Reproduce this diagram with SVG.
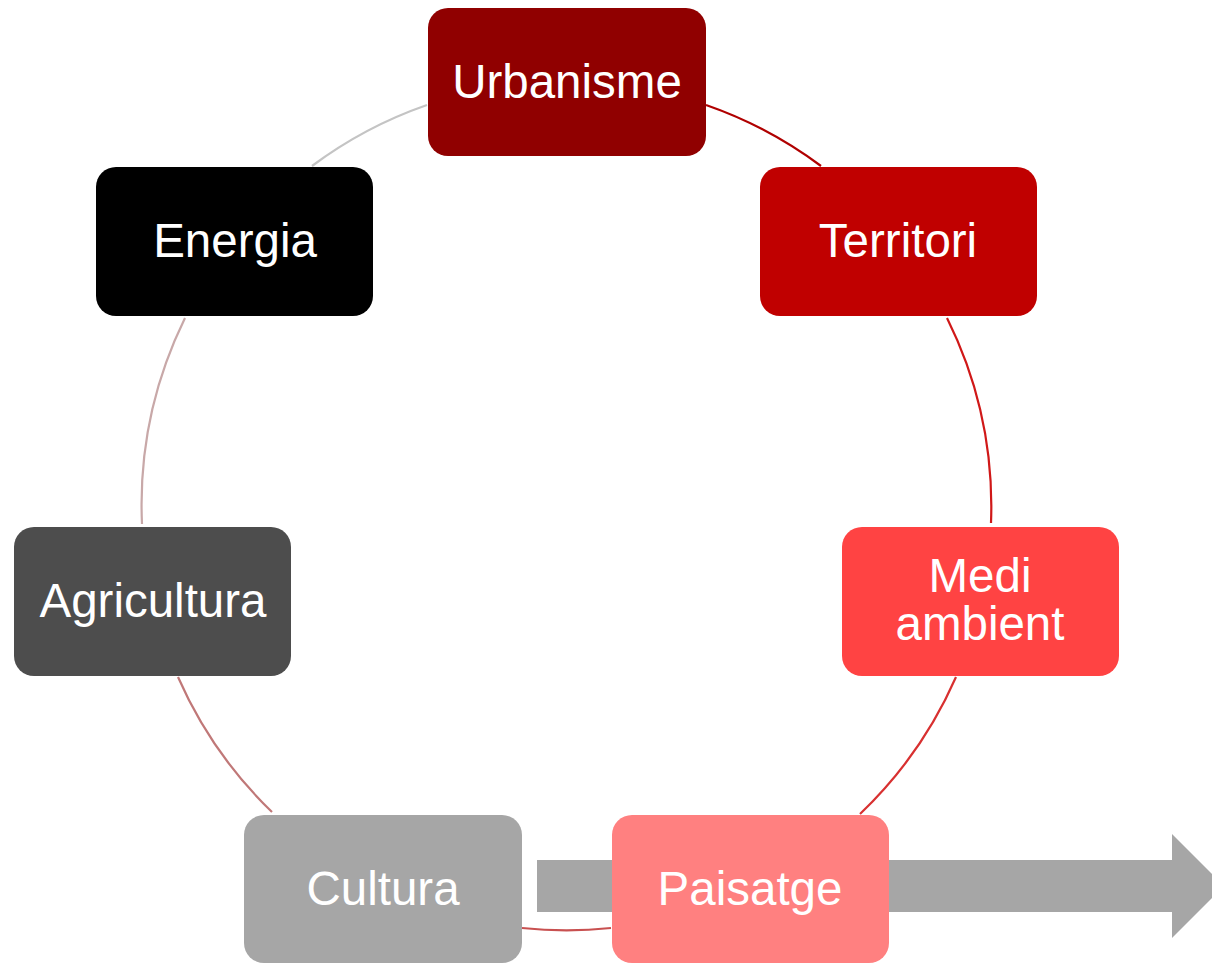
<svg xmlns="http://www.w3.org/2000/svg" width="1212" height="963" viewBox="0 0 1212 963">
<style>
.n{stroke:none}
.t{font-family:"Liberation Sans",Arial,sans-serif;font-size:47.5px;fill:#ffffff;text-anchor:middle}
.c{fill:none;stroke-width:2.2}
</style>
<rect width="1212" height="963" fill="#ffffff"/>
<g id="connectors">
<path class="c" d="M706,105 A425,425 0 0 1 821,166" stroke="#B00000"/>
<path class="c" d="M947,318 A425,425 0 0 1 991,523" stroke="#D01818"/>
<path class="c" d="M956,677 A425,425 0 0 1 860,814" stroke="#D83030"/>
<path class="c" d="M611,928 A425,425 0 0 1 522,928" stroke="#C85050"/>
<path class="c" d="M272,812 A425,425 0 0 1 178,677" stroke="#C07878"/>
<path class="c" d="M142,524 A425,425 0 0 1 185,318" stroke="#C8A8A8"/>
<path class="c" d="M312,166 A425,425 0 0 1 427,105" stroke="#C4C4C4"/>
</g>
<g id="arrow">
<polygon points="537,860 1172,860 1172,834 1224,886 1172,938 1172,912 537,912" fill="#A6A6A6"/>
</g>
<g id="urbanisme">
<rect class="n" x="428" y="8" width="278" height="148" rx="20" fill="#900000"/>
<text class="t" x="567" y="98">Urbanisme</text>
</g>
<g id="territori">
<rect class="n" x="760" y="167" width="277" height="149" rx="20" fill="#C00000"/>
<text class="t" x="898" y="257">Territori</text>
</g>
<g id="medi-ambient">
<rect class="n" x="842" y="527" width="277" height="149" rx="20" fill="#FF4343"/>
<text class="t" x="980" y="592">Medi</text>
<text class="t" x="980" y="640">ambient</text>
</g>
<g id="paisatge">
<rect class="n" x="612" y="815" width="277" height="148" rx="20" fill="#FF8080"/>
<text class="t" x="750" y="905">Paisatge</text>
</g>
<g id="cultura">
<rect class="n" x="244" y="815" width="278" height="148" rx="20" fill="#A6A6A6"/>
<text class="t" x="383" y="905">Cultura</text>
</g>
<g id="agricultura">
<rect class="n" x="14" y="527" width="277" height="149" rx="20" fill="#4D4D4D"/>
<text class="t" x="153" y="617">Agricultura</text>
</g>
<g id="energia">
<rect class="n" x="96" y="167" width="277" height="149" rx="20" fill="#000000"/>
<text class="t" x="235" y="257">Energia</text>
</g>
</svg>
